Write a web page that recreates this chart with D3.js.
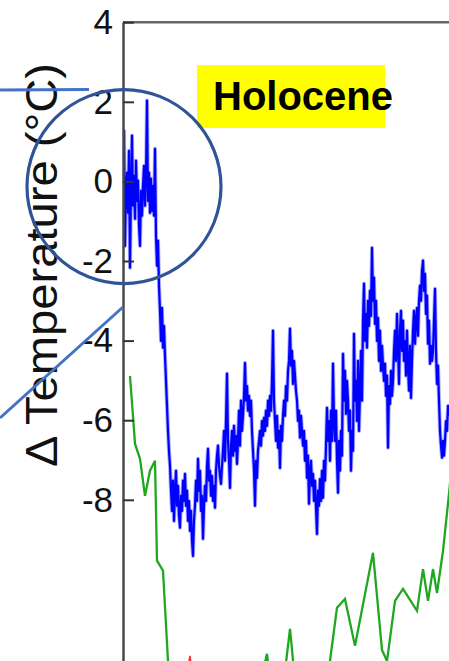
<!DOCTYPE html>
<html>
<head>
<meta charset="utf-8">
<script src="https://cdn.jsdelivr.net/npm/d3@7"></script>
<style>
  html, body { margin: 0; padding: 0; background: #fff; }
  svg { display: block; font-family: "Liberation Sans", Arial, sans-serif; }
</style>
</head>
<body>
<svg width="449" height="661"></svg>
<script>
// temperature anomaly record, one sample every 1/3 kyr starting at present
const blueStart = 0;
const blueStep = 1 / 3;
const blueTemp = [
  -0.36, 1.27, -1.62, -0.11, 0.22, -0.79, 0.77, -2.17, -0.24, 1.15,
  -0.61, 0.14, -0.94, 0.52, -0.49, 0.02, -1.12, -1.62, -0.24, -0.86,
  -0.11, 0.39, -0.61, 0.14, 2.03, -0.49, 0.22, -0.79, 0.07, -0.74,
  -0.11, -0.86, 0.82, -1.37, -2.12, -1.49, -2.62, -3.25, -4.01, -3.18,
  -4.18, -3.63, -4.38, -5.01, -5.64, -6.27, -6.77, -7.15, -7.77, -8.28,
  -7.52, -8.53, -7.77, -7.27, -8.15, -7.65, -8.40, -8.70, -7.90, -8.28,
  -7.52, -8.03, -7.35, -8.15, -7.77, -8.53, -8.03, -8.78, -8.28, -9.03,
  -9.41, -8.53, -8.15, -7.52, -8.03, -6.97, -7.77, -7.27, -8.28, -7.90,
  -8.98, -8.15, -7.65, -8.03, -7.15, -6.72, -7.52, -7.27, -7.90, -7.40,
  -8.03, -7.65, -8.20, -7.27, -6.89, -6.64, -7.15, -7.40, -7.60, -7.15,
  -6.77, -6.27, -7.02, -6.02, -4.83, -6.52, -7.02, -7.70, -6.64, -6.27,
  -6.89, -6.14, -6.77, -6.39, -7.10, -6.52, -5.76, -6.64, -5.51, -6.27,
  -5.89, -5.39, -4.56, -5.51, -5.14, -5.76, -5.39, -5.89, -5.51, -6.27,
  -6.77, -7.27, -8.15, -7.02, -7.45, -6.77, -6.52, -6.27, -6.64, -6.02,
  -6.39, -5.94, -6.27, -5.76, -6.14, -5.51, -5.89, -5.39, -5.76, -5.01,
  -3.75, -5.51, -6.02, -6.52, -5.89, -6.69, -6.27, -7.20, -6.14, -6.52,
  -5.89, -5.51, -5.89, -5.14, -5.51, -4.76, -4.51, -3.70, -4.63, -4.26,
  -5.09, -4.51, -4.88, -5.26, -5.51, -6.02, -5.76, -6.44, -5.89, -6.27,
  -6.64, -6.27, -7.02, -6.52, -7.45, -6.89, -8.10, -7.27, -7.02, -7.65,
  -7.35, -8.03, -7.52, -8.20, -8.86, -7.77, -8.15, -7.48, -8.03, -7.27,
  -7.95, -7.02, -7.52, -6.64, -5.69, -6.52, -6.02, -7.02, -5.76, -6.52,
  -4.58, -6.02, -6.52, -5.76, -7.02, -7.82, -6.52, -7.27, -6.27, -6.89,
  -4.33, -5.51, -4.76, -5.84, -5.01, -5.51, -6.27, -5.76, -7.27, -6.27,
  -6.77, -3.83, -5.51, -5.01, -6.02, -4.51, -6.27, -5.26, -4.26, -5.51,
  -3.50, -2.57, -4.01, -3.33, -4.18, -3.00, -3.63, -2.75, -3.38, -1.67,
  -3.00, -2.42, -3.58, -3.00, -4.01, -3.43, -4.51, -3.75, -4.76, -4.13,
  -4.63, -5.01, -4.58, -5.39, -4.88, -6.69, -5.14, -5.59, -4.76, -5.39,
  -5.01, -4.26, -3.75, -4.51, -3.33, -4.13, -5.09, -3.75, -3.25, -4.26,
  -3.50, -4.51, -4.01, -4.88, -3.75, -4.63, -5.26, -4.13, -5.44, -4.51,
  -3.75, -3.25, -4.08, -3.50, -3.18, -3.88, -3.00, -2.62, -3.00, -2.25,
  -1.99, -2.75, -2.32, -3.33, -2.87, -4.08, -3.50, -4.58, -4.13, -4.51,
  -4.26, -3.50, -2.70, -4.26, -5.09, -4.63, -5.51, -6.27, -6.64, -6.94,
  -6.52, -6.89, -6.52, -6.02, -6.27, -5.64, -5.89
];

// second record: [age kyr, temperature]
const greenSeries = [
  [2.33, -4.89], [3.33, -5.89], [4.0, -6.59], [5.67, -6.97], [7.33, -7.90],
  [9.0, -7.27], [10.67, -7.02], [11.33, -9.53], [13.33, -9.78], [15.0, -12.05],
  [17.33, -13.05], [25.67, -13.55], [35.67, -13.05], [44.0, -12.8], [46.33, -12.42],
  [48.0, -11.87], [49.0, -12.55], [52.33, -12.8], [54.0, -12.3], [55.67, -11.24],
  [57.0, -12.3], [60.67, -12.8], [65.67, -12.55], [69.0, -12.05], [71.33, -10.71],
  [74.0, -10.49], [77.33, -11.67], [83.33, -9.33], [86.33, -11.77], [88.0, -12.05],
  [90.67, -10.54], [93.33, -10.24], [98.0, -10.79], [100.0, -9.74], [101.67, -10.54],
  [103.33, -9.74], [104.67, -10.34], [106.67, -9.28], [108.67, -7.85], [110.67, -6.27]
];

// third record, only its top shows at the bottom edge
const redSeries = [
  [20.0, -13.2], [21.67, -12.2], [22.33, -11.92], [23.0, -12.3], [24.33, -13.2]
];

const yTicks = [4, 2, 0, -2, -4, -6, -8];
const yLabel = "Δ Temperature (°C)";
const periodLabel = "Holocene";

const svg = d3.select("svg");
const W = 449, H = 661;
const left = 123;

const x = d3.scaleLinear().domain([0, 110]).range([left, left + 330]);
const y = d3.scaleLinear().domain([-12.05, 4]).range([H, 22.2]);

svg.append("defs").append("clipPath").attr("id", "plot")
  .append("rect")
  .attr("x", left).attr("y", y(4))
  .attr("width", W - left).attr("height", H - y(4));

const blueData = blueTemp.map((t, i) => [blueStart + i * blueStep, t]);

const line = d3.line().x(d => x(d[0])).y(d => y(d[1]));

const plot = svg.append("g").attr("clip-path", "url(#plot)");

plot.append("path")
  .datum(redSeries)
  .attr("d", line)
  .attr("fill", "none")
  .attr("stroke", "#ff2a2a")
  .attr("stroke-width", 1.5);

plot.append("path")
  .datum(greenSeries)
  .attr("d", line)
  .attr("fill", "none")
  .attr("stroke", "#1fa81f")
  .attr("stroke-width", 2.3);

// soft halo under the record, then the record itself
plot.append("path")
  .datum(blueData)
  .attr("d", line)
  .attr("fill", "none")
  .attr("stroke", "#6a6aff")
  .attr("stroke-opacity", 0.55)
  .attr("stroke-width", 4)
  .attr("stroke-linejoin", "round");

plot.append("path")
  .datum(blueData)
  .attr("d", line)
  .attr("fill", "none")
  .attr("stroke", "#0000ff")
  .attr("stroke-width", 2.2)
  .attr("stroke-linejoin", "round");

// top frame line
svg.append("line")
  .attr("x1", left).attr("x2", W)
  .attr("y1", y(4)).attr("y2", y(4))
  .attr("stroke", "#666")
  .attr("stroke-width", 2.5);

const axisY = d3.axisLeft(y)
  .tickValues(yTicks)
  .tickFormat(d3.format("d"))
  .tickSizeInner(-11)
  .tickSizeOuter(0)
  .tickPadding(10);

const gy = svg.append("g")
  .attr("transform", `translate(${left},0)`)
  .call(axisY);

gy.select(".domain")
  .attr("stroke", "#4a4a4a")
  .attr("stroke-width", 2.5);
gy.selectAll(".tick line")
  .attr("stroke", "#333")
  .attr("stroke-width", 2);
gy.selectAll(".tick text")
  .attr("font-size", 35)
  .attr("font-family", "'Liberation Sans', Arial, sans-serif")
  .attr("fill", "#111")
  .text(d => d < 0 ? "-" + Math.abs(d) : d);

svg.append("text")
  .attr("transform", "translate(57,265) rotate(-90)")
  .attr("text-anchor", "middle")
  .attr("font-size", 45)
  .attr("textLength", 404)
  .attr("lengthAdjust", "spacingAndGlyphs")
  .attr("fill", "#111")
  .text(yLabel);

// period label
svg.append("rect")
  .attr("x", 197).attr("y", 65)
  .attr("width", 188).attr("height", 63)
  .attr("fill", "#ffff00");

svg.append("text")
  .attr("x", 213).attr("y", 110)
  .attr("font-size", 40)
  .attr("font-weight", "bold")
  .attr("fill", "#000")
  .text(periodLabel);

// callout circle and its leader lines
svg.append("circle")
  .attr("cx", x(0.33)).attr("cy", y(-0.13))
  .attr("r", 97)
  .attr("fill", "none")
  .attr("stroke", "#2f5597")
  .attr("stroke-width", 3.2);

svg.append("line")
  .attr("x1", 0).attr("y1", 90)
  .attr("x2", 89).attr("y2", 89.5)
  .attr("stroke", "#4472c4")
  .attr("stroke-width", 3);

svg.append("line")
  .attr("x1", 123).attr("y1", 307)
  .attr("x2", 0).attr("y2", 418)
  .attr("stroke", "#4472c4")
  .attr("stroke-width", 3);
</script>
</body>
</html>
